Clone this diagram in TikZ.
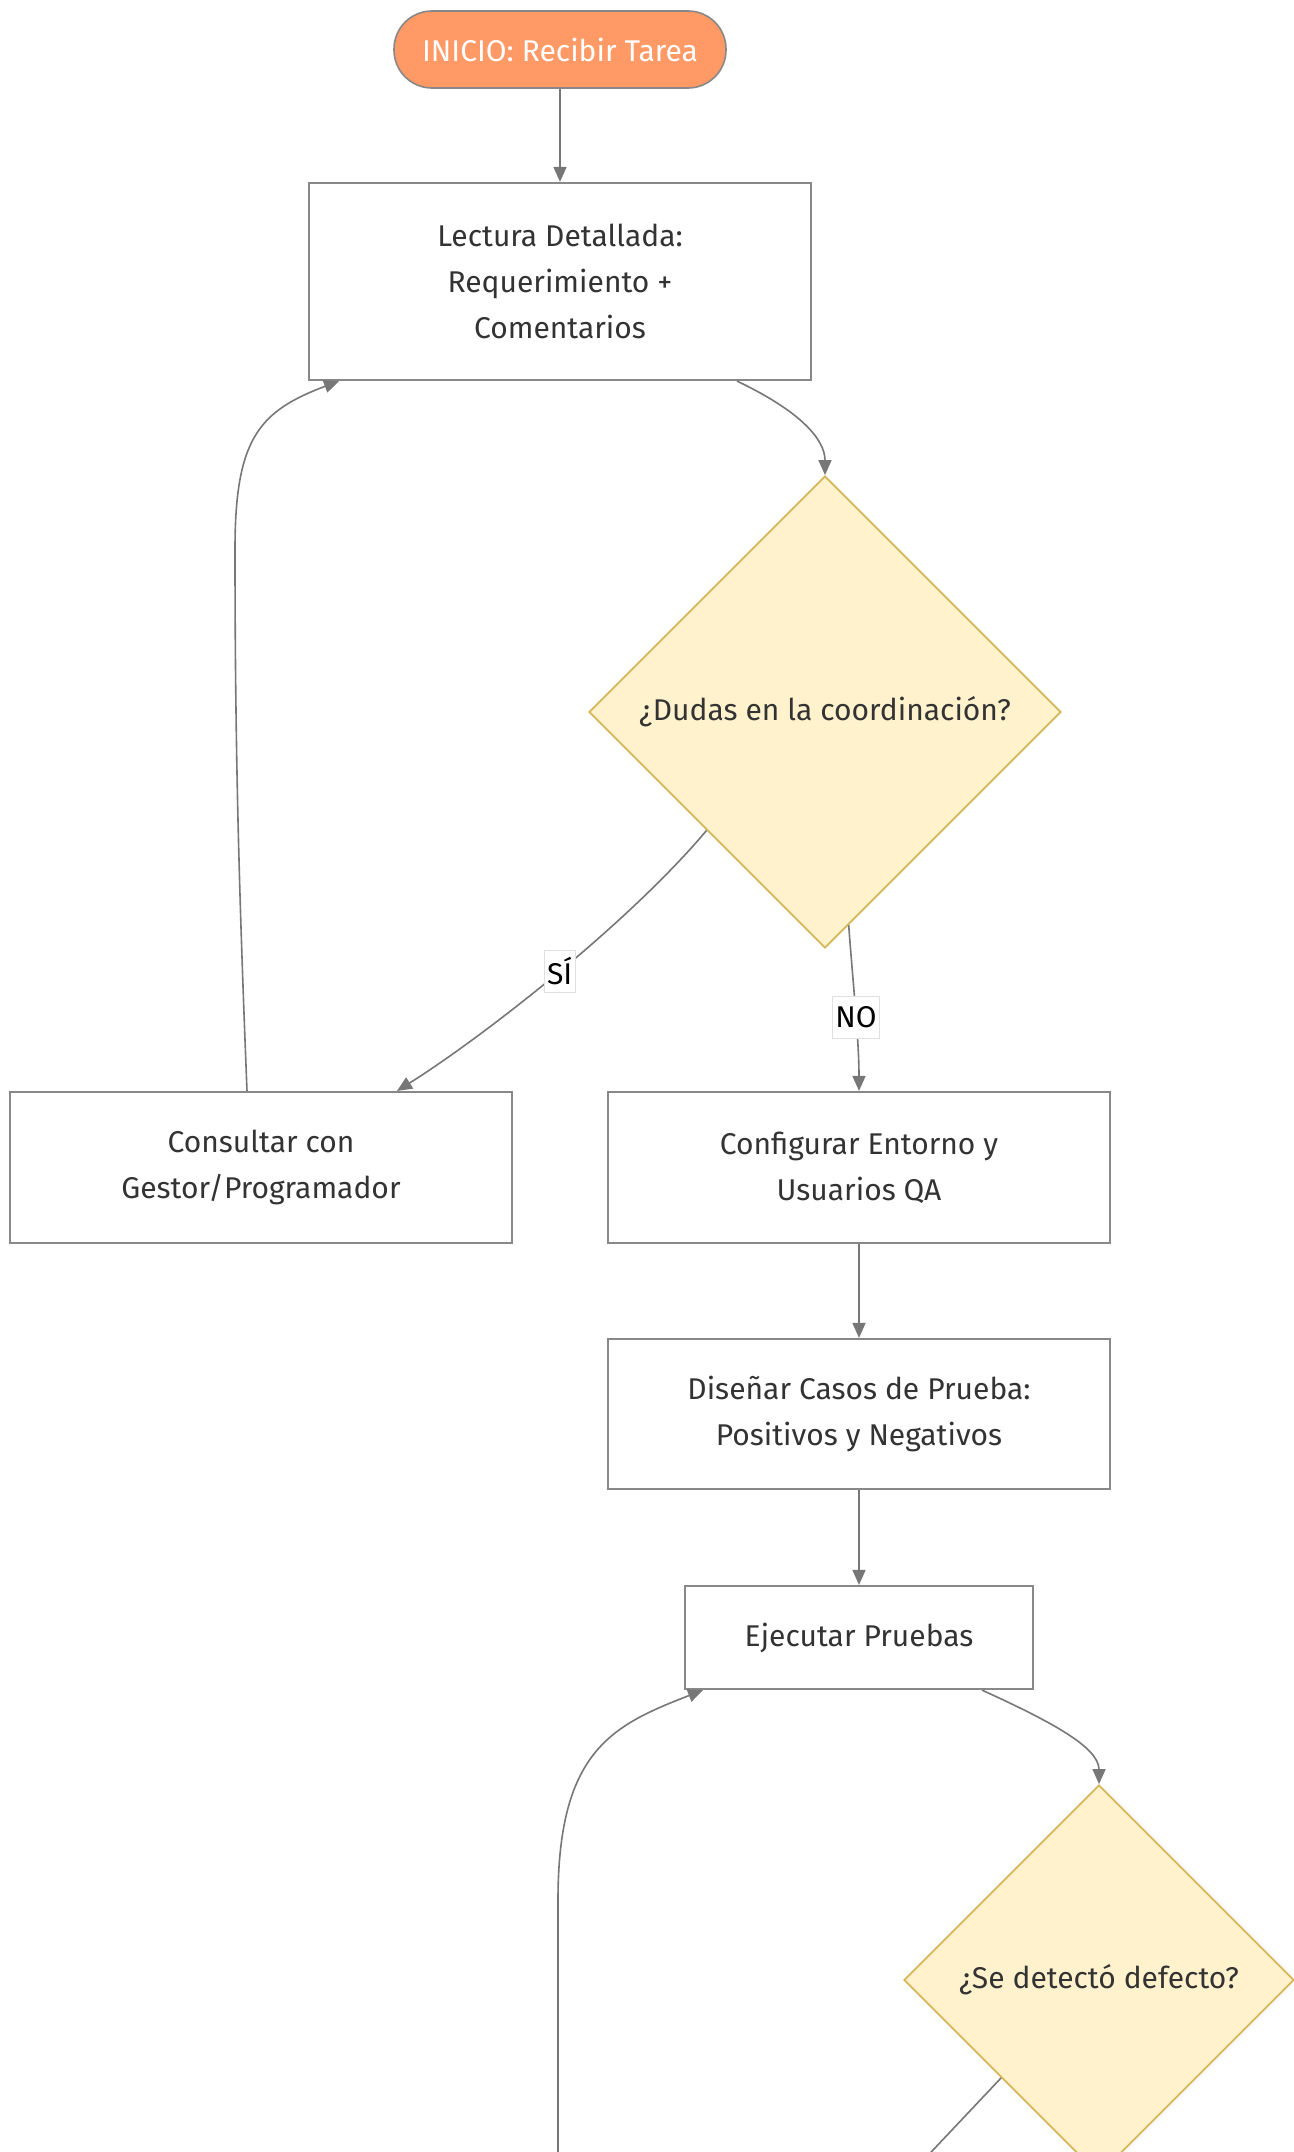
\documentclass[tikz,border=0pt]{standalone}
\usepackage{fontspec}
\setmainfont{Fira Sans}
\usepackage{tikz}
\usetikzlibrary{arrows.meta}
\usetikzlibrary{shapes.geometric}
\usetikzlibrary{calc}
\definecolor{borde}{HTML}{888888}
\definecolor{linea}{HTML}{777777}
\definecolor{texto}{HTML}{333333}
\definecolor{naranja}{HTML}{FF9966}
\definecolor{crema}{HTML}{FFF2CC}
\definecolor{oro}{HTML}{D6B656}
\newcommand{\letra}{\fontsize{15}{23}\selectfont}
\tikzstyle{proc}=[rectangle, draw=borde, line width=1.1pt, fill=white, text=texto, align=center, font=\letra]
\tikzstyle{inicio}=[rectangle, rounded corners=19pt, draw=borde, line width=0.8pt, fill=naranja, text=white, minimum width=166pt, minimum height=38.5pt, font=\letra]
\tikzstyle{decision}=[diamond, aspect=1, inner sep=0pt, draw=oro, line width=0.9pt, fill=crema, text=texto, font=\letra]
\tikzstyle{flecha}=[draw=linea, line width=0.8pt, -{Triangle[length=7.5pt, width=6.5pt]}]
\tikzstyle{etiq}=[fill=white, draw=black!12, line width=0.4pt, inner xsep=1.5pt, inner ysep=0pt, minimum height=21pt, text=black, font=\letra]

\begin{document}
\begin{tikzpicture}[x=0.5pt, y=-0.5pt]
				\clip (0,0) rectangle (1294,2152);
				\fill[white] (0,0) rectangle (1294,2152);
				% nodos
				\node[inicio] (inicio) at (560,49.5) {INICIO: Recibir Tarea};
				\node[proc, minimum width=251pt, minimum height=98.5pt] (lectura) at (560,281.5) {Lectura Detallada:\\Requerimiento +\\Comentarios};
				\node[decision, minimum width=236pt, minimum height=236pt] (dudas) at (825,712) {¿Dudas en la coordinación?};
				\node[proc, minimum width=251pt, minimum height=75.5pt] (consultar) at (261,1167.5) {Consultar con\\Gestor/Programador};
				\node[proc, minimum width=251pt, minimum height=75.5pt] (config) at (859,1167.5) {Configurar Entorno y\\Usuarios QA};
				\node[proc, minimum width=251pt, minimum height=75pt] (disenar) at (859,1414) {Diseñar Casos de Prueba:\\Positivos y Negativos};
				\node[proc, minimum width=174pt, minimum height=51.5pt] (ejecutar) at (859,1637.5) {Ejecutar Pruebas};
				\node[decision, minimum width=195pt, minimum height=195pt] (defecto) at (1099,1980) {¿Se detectó defecto?};
				\coordinate (abajo1) at (900,2185);
				\coordinate (abajo2) at (558,2200);

				% conectores
				\draw[flecha] (inicio.south) -- (lectura.north);
				\draw[flecha] ($(lectura.south)+(177,0)$) .. controls +(63,30) and +(0,-36) .. (dudas.north);
				\draw[flecha] ($(dudas.west)!.5!(dudas.south)$) .. controls +(-80,95) and +(83,-52) .. node[etiq, pos=.48] {SÍ} ($(consultar.north)+(136,0)$);
				\draw[flecha] ($(dudas.south)!.1!(dudas.east)$) .. controls +(4,55) and +(0,-52) .. node[etiq, pos=.55] {NO} (config.north);
				\draw[flecha] ($(consultar.north)+(-14,0)$) .. controls +(-8,-200) and +(0,200) .. ++(-12,-542) .. controls +(0,-110) and +(-80,30) .. ($(lectura.south)+(-221,0)$);
				\draw[flecha] (config.south) -- (disenar.north);
				\draw[flecha] (disenar.south) -- (ejecutar.north);
				\draw[flecha] ($(ejecutar.south)+(123,0)$) .. controls +(68,31) and +(0,-37) .. (defecto.north);
				\draw[flecha] ($(defecto.west)!.5!(defecto.south)$) -- (abajo1);
				\draw[flecha] (abajo2) -- ++(0,-300) .. controls +(0,-150) and +(-90,35) .. ($(ejecutar.south)+(-156,0)$);
\end{tikzpicture}
\end{document}
